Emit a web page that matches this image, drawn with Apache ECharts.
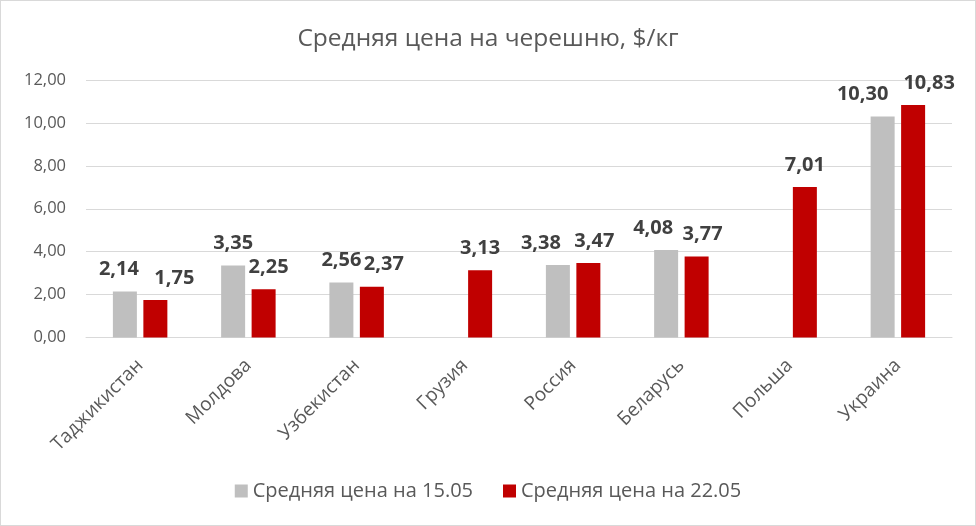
<!DOCTYPE html>
<html><head><meta charset="utf-8">
<script src="https://cdn.jsdelivr.net/npm/echarts@6/dist/echarts.min.js"></script>
<style>html,body{margin:0;padding:0;background:#fff}#c{width:976px;height:526px;box-sizing:border-box;border:1px solid #d9d9d9}</style>
</head><body><div id="c"></div>
<script>
const categories = ['Таджикистан','Молдова','Узбекистан','Грузия','Россия','Беларусь','Польша','Украина'];
const price1505 = [2.14, 3.35, 2.56, null, 3.38, 4.08, null, 10.30];
const price2205 = [1.75, 2.25, 2.37, 3.13, 3.47, 3.77, 7.01, 10.83];
const seriesNames = ['Средняя цена на 15.05','Средняя цена на 22.05'];
const yTicks = {min:0, max:12, interval:2};

// label style: horizontal nudges (px) to avoid overlap, as in the original
const labelShift1505 = [-6, 0, 0, 0, -17, -13, 0, -20];
const labelShift2205 = [19, 5, 12, 0, 6, 6, 0, 16];

const fmt = v => v.toFixed(2).replace('.', ',');
const chart = echarts.init(document.getElementById('c'));
const baseLbl = {show:true, position:'top', distance:12, fontFamily:'Open Sans', fontSize:20, fontWeight:'bold', color:'#404040',
  formatter: p => fmt(p.value)};
const mk = (vals, shifts) => vals.map((v, i) => v == null ? null :
  ({value:v, label:{offset:[shifts[i], 0]}}));
chart.setOption({
  animation:false,
  title:{text:'Средняя цена на черешню, $/кг', left:'center', top:21,
    textStyle:{fontFamily:'Open Sans', fontWeight:'normal', fontSize:24.5, color:'#595959'}},
  grid:{left:85, right:23, top:79, bottom:187.5, containLabel:false},
  legend:{bottom:19, left:'center', itemWidth:13, itemHeight:13, itemGap:30,
    icon:'rect', textStyle:{fontFamily:'Open Sans', fontSize:20, color:'#595959'}},
  xAxis:{type:'category', data:categories,
    axisLine:{lineStyle:{color:'#d9d9d9', width:1}}, axisTick:{show:false},
    axisLabel:{rotate:45, fontFamily:'Open Sans', fontSize:19, color:'#595959', margin:25, interval:0}},
  yAxis:{type:'value', min:yTicks.min, max:yTicks.max, interval:yTicks.interval,
    axisLabel:{formatter:v=>fmt(v), fontFamily:'Open Sans', fontSize:16.5, color:'#595959', margin:20},
    splitLine:{lineStyle:{color:'#d9d9d9', width:1}}, axisLine:{show:false}, axisTick:{show:false}},
  series:[
    {name:seriesNames[0], type:'bar', data:mk(price1505, labelShift1505), barWidth:24, barGap:'27%', itemStyle:{color:'#bfbfbf'}, label:baseLbl},
    {name:seriesNames[1], type:'bar', data:mk(price2205, labelShift2205), barWidth:24, itemStyle:{color:'#c00000'}, label:baseLbl}
  ]
});
</script></body></html>
